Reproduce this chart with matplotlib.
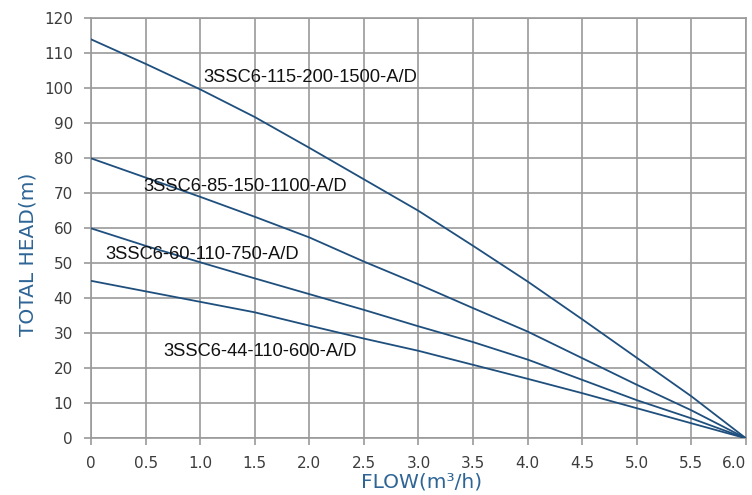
import matplotlib
matplotlib.use("Agg")
import matplotlib.pyplot as plt
import numpy as np

flow = [0, 0.5, 1.0, 1.5, 2.0, 2.5, 3.0, 3.5, 4.0, 4.5, 5.0, 5.5, 6.0]
head_115 = [114, 107, 99.7, 91.8, 83, 74, 65, 55, 44.8, 34, 23, 12, 0]
head_85 = [80, 74.5, 69, 63.3, 57.4, 50.5, 44, 37.2, 30.5, 22.9, 15.3, 8, 0]
head_60 = [60, 55, 50.3, 45.7, 41.2, 36.7, 32, 27.5, 22.5, 16.7, 10.9, 5.7, 0]
head_44 = [45, 42, 39, 36, 32.2, 28.5, 25, 21, 17, 12.9, 8.6, 4.3, 0]

series = [head_115, head_85, head_60, head_44]
labels = ["3SSC6-115-200-1500-A/D", "3SSC6-85-150-1100-A/D",
          "3SSC6-60-110-750-A/D", "3SSC6-44-110-600-A/D"]
label_pos = [(1.03, 103), (0.48, 72), (0.13, 52.4), (0.66, 24.7)]

x_ticks = [0, 0.5, 1.0, 1.5, 2.0, 2.5, 3.0, 3.5, 4.0, 4.5, 5.0, 5.5, 6.0]
x_ticklabels = ["0", "0.5", "1.0", "1.5", "2.0", "2.5", "3.0", "3.5", "4.0",
                "4.5", "5.0", "5.5", "6.0"]
y_ticks = list(range(0, 121, 10))

line_color = "#1f4f7d"
grid_color = "#9a9a9a"
axis_label_color = "#2e6596"
tick_color = "#3c3c3c"

fig = plt.figure(figsize=(7.52, 4.95), dpi=100)
ax = fig.add_axes([0.121, 0.1145, 0.871, 0.8485])

for s in series:
    ax.plot(flow, s, color=line_color, lw=1.3, zorder=3)

for lab, (lx, ly) in zip(labels, label_pos):
    ax.text(lx, ly, lab, fontsize=13.2, family="Liberation Sans",
            color="#111111", ha="left", va="center", zorder=4)

ax.set_xlim(0, 6.0)
ax.set_ylim(0, 120)
ax.set_xticks(x_ticks)
ax.set_xticklabels(x_ticklabels)
ax.set_yticks(y_ticks)
ax.grid(True, color=grid_color, lw=1.2, zorder=1)
for sp in ax.spines.values():
    sp.set_color(grid_color)
    sp.set_linewidth(1.2)
ax.tick_params(axis="both", colors=grid_color, labelcolor=tick_color,
               labelsize=11, length=5, width=1.2, direction="out")
ax.tick_params(axis="y", pad=8)
ax.tick_params(axis="x", pad=8)

ax.get_xticklabels()[-1].set_horizontalalignment("right")

ax.set_ylabel("TOTAL HEAD(m)", fontsize=14.5, color=axis_label_color)
ax.yaxis.set_label_coords(-0.096, 0.439)
ax.yaxis.label.set_va("center")
ax.set_xlabel("FLOW(m³/h)", fontsize=14.5, color=axis_label_color)
ax.xaxis.set_label_coords(0.505, -0.104)
ax.xaxis.label.set_va("center")

fig.savefig("out.png", dpi=100)
